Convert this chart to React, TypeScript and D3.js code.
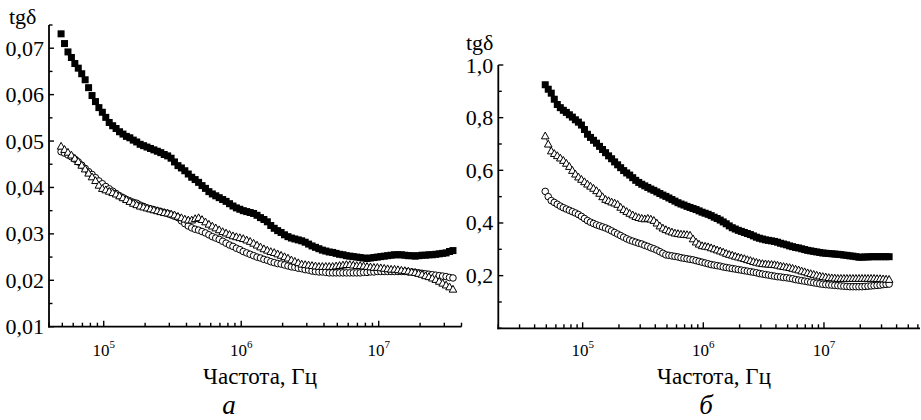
import React from "react";
import * as d3 from "d3";

// log10 of measurement frequency (Hz)
const logF = [
  4.69, 4.715, 4.74, 4.765, 4.79, 4.815, 4.84, 4.865, 4.89, 4.915,
  4.94, 4.965, 4.99, 5.015, 5.04, 5.065, 5.09, 5.115, 5.14, 5.165,
  5.19, 5.215, 5.24, 5.265, 5.29, 5.315, 5.34, 5.365, 5.39, 5.415,
  5.44, 5.465, 5.49, 5.515, 5.54, 5.565, 5.59, 5.615, 5.64, 5.665,
  5.69, 5.715, 5.74, 5.765, 5.79, 5.815, 5.84, 5.865, 5.89, 5.915,
  5.94, 5.965, 5.99, 6.015, 6.04, 6.065, 6.09, 6.115, 6.14, 6.165,
  6.19, 6.215, 6.24, 6.265, 6.29, 6.315, 6.34, 6.365, 6.39, 6.415,
  6.44, 6.465, 6.49, 6.515, 6.54, 6.565, 6.59, 6.615, 6.64, 6.665,
  6.69, 6.715, 6.74, 6.765, 6.79, 6.815, 6.84, 6.865, 6.89, 6.915,
  6.94, 6.965, 6.99, 7.015, 7.04, 7.065, 7.09, 7.115, 7.14, 7.165,
  7.19, 7.215, 7.24, 7.265, 7.29, 7.315, 7.34, 7.365, 7.39, 7.415,
  7.44, 7.465, 7.49, 7.515, 7.54,
];

// panel а
const aSquares = [
  0.0731, 0.0710, 0.0692, 0.0680, 0.0667, 0.0657, 0.0645, 0.0632, 0.0615, 0.0598,
  0.0585, 0.0572, 0.0562, 0.0551, 0.0540, 0.0533, 0.0527, 0.0520, 0.0515, 0.0510,
  0.0507, 0.0502, 0.0498, 0.0493, 0.0490, 0.0487, 0.0484, 0.0481, 0.0478, 0.0475,
  0.0471, 0.0468, 0.0463, 0.0455, 0.0447, 0.0442, 0.0436, 0.0429, 0.0422, 0.0417,
  0.0411, 0.0404, 0.0398, 0.0391, 0.0386, 0.0382, 0.0378, 0.0374, 0.0370, 0.0365,
  0.0360, 0.0356, 0.0353, 0.0350, 0.0348, 0.0346, 0.0344, 0.0340, 0.0335, 0.0331,
  0.0326, 0.0318, 0.0312, 0.0307, 0.0303, 0.0298, 0.0294, 0.0291, 0.0289, 0.0287,
  0.0285, 0.0282, 0.0278, 0.0274, 0.0271, 0.0268, 0.0265, 0.0263, 0.0261, 0.0260,
  0.0258, 0.0256, 0.0255, 0.0253, 0.0252, 0.0251, 0.0250, 0.0249, 0.0248, 0.0247,
  0.0248, 0.0249, 0.0250, 0.0251, 0.0252, 0.0253, 0.0254, 0.0255, 0.0255, 0.0255,
  0.0254, 0.0253, 0.0253, 0.0252, 0.0253, 0.0254, 0.0254, 0.0255, 0.0255, 0.0256,
  0.0257, 0.0258, 0.0259, 0.0262, 0.0264,
];
const aTriangles = [
  0.0489, 0.0482, 0.0476, 0.0470, 0.0463, 0.0456, 0.0448, 0.0440, 0.0431, 0.0423,
  0.0415, 0.0405, 0.0398, 0.0395, 0.0392, 0.0389, 0.0386, 0.0382, 0.0378, 0.0374,
  0.0370, 0.0366, 0.0363, 0.0360, 0.0358, 0.0356, 0.0354, 0.0352, 0.0350, 0.0348,
  0.0346, 0.0345, 0.0343, 0.0341, 0.0338, 0.0335, 0.0332, 0.0330, 0.0330, 0.0333,
  0.0335, 0.0331, 0.0326, 0.0321, 0.0317, 0.0313, 0.0309, 0.0305, 0.0302, 0.0299,
  0.0296, 0.0294, 0.0292, 0.0290, 0.0287, 0.0284, 0.0280, 0.0276, 0.0272, 0.0268,
  0.0265, 0.0262, 0.0260, 0.0257, 0.0254, 0.0251, 0.0248, 0.0244, 0.0241, 0.0238,
  0.0235, 0.0234, 0.0233, 0.0232, 0.0231, 0.0230, 0.0230, 0.0230, 0.0230, 0.0230,
  0.0231, 0.0232, 0.0233, 0.0234, 0.0234, 0.0233, 0.0232, 0.0232, 0.0231, 0.0230,
  0.0229, 0.0228, 0.0228, 0.0227, 0.0226, 0.0225, 0.0224, 0.0224, 0.0223, 0.0222,
  0.0221, 0.0220, 0.0218, 0.0217, 0.0215, 0.0213, 0.0210, 0.0208, 0.0205, 0.0202,
  0.0198, 0.0194, 0.0190, 0.0186, 0.0181,
];
const aCircles = [
  0.0477, 0.0474, 0.0470, 0.0466, 0.0461, 0.0455, 0.0448, 0.0441, 0.0434, 0.0428,
  0.0421, 0.0414, 0.0408, 0.0402, 0.0397, 0.0392, 0.0387, 0.0382, 0.0378, 0.0374,
  0.0371, 0.0368, 0.0366, 0.0362, 0.0359, 0.0356, 0.0354, 0.0352, 0.0350, 0.0348,
  0.0346, 0.0344, 0.0341, 0.0338, 0.0335, 0.0328, 0.0322, 0.0317, 0.0313, 0.0310,
  0.0308, 0.0305, 0.0302, 0.0298, 0.0294, 0.0291, 0.0288, 0.0284, 0.0280, 0.0276,
  0.0273, 0.0269, 0.0266, 0.0262, 0.0259, 0.0256, 0.0253, 0.0250, 0.0248, 0.0245,
  0.0243, 0.0240, 0.0238, 0.0236, 0.0235, 0.0233, 0.0231, 0.0229, 0.0228, 0.0226,
  0.0225, 0.0223, 0.0222, 0.0220, 0.0219, 0.0218, 0.0218, 0.0217, 0.0216, 0.0216,
  0.0216, 0.0216, 0.0216, 0.0216, 0.0216, 0.0216, 0.0216, 0.0216, 0.0217, 0.0217,
  0.0218, 0.0218, 0.0219, 0.0219, 0.0219, 0.0219, 0.0219, 0.0219, 0.0219, 0.0219,
  0.0219, 0.0218, 0.0218, 0.0217, 0.0216, 0.0215, 0.0214, 0.0213, 0.0212, 0.0211,
  0.0210, 0.0209, 0.0208, 0.0206, 0.0205,
];

// panel б
const bSquares = [
  0.925, 0.908, 0.893, 0.870, 0.850, 0.838, 0.828, 0.820, 0.811, 0.802,
  0.792, 0.783, 0.772, 0.755, 0.737, 0.725, 0.714, 0.703, 0.691, 0.679,
  0.667, 0.655, 0.644, 0.632, 0.621, 0.610, 0.599, 0.590, 0.582, 0.572,
  0.562, 0.554, 0.547, 0.541, 0.535, 0.529, 0.524, 0.518, 0.512, 0.506,
  0.501, 0.495, 0.489, 0.483, 0.477, 0.472, 0.468, 0.463, 0.459, 0.455,
  0.451, 0.446, 0.441, 0.437, 0.433, 0.428, 0.422, 0.417, 0.411, 0.404,
  0.397, 0.389, 0.382, 0.377, 0.372, 0.368, 0.364, 0.360, 0.356, 0.351,
  0.346, 0.342, 0.339, 0.336, 0.334, 0.332, 0.330, 0.327, 0.323, 0.320,
  0.317, 0.313, 0.310, 0.307, 0.305, 0.302, 0.299, 0.296, 0.294, 0.292,
  0.290, 0.288, 0.286, 0.285, 0.284, 0.283, 0.282, 0.281, 0.280, 0.278,
  0.277, 0.275, 0.274, 0.272, 0.270, 0.270, 0.271, 0.271, 0.272, 0.272,
  0.272, 0.272, 0.272, 0.272, 0.272,
];
const bTriangles = [
  0.731, 0.700, 0.674, 0.664, 0.656, 0.647, 0.638, 0.627, 0.615, 0.600,
  0.586, 0.575, 0.566, 0.557, 0.548, 0.540, 0.532, 0.523, 0.513, 0.500,
  0.490, 0.485, 0.480, 0.476, 0.471, 0.460, 0.451, 0.444, 0.437, 0.431,
  0.425, 0.421, 0.418, 0.416, 0.418, 0.415, 0.410, 0.400, 0.389, 0.381,
  0.375, 0.370, 0.366, 0.362, 0.360, 0.358, 0.357, 0.356, 0.354, 0.340,
  0.328, 0.320, 0.314, 0.312, 0.310, 0.306, 0.302, 0.298, 0.294, 0.290,
  0.285, 0.281, 0.278, 0.274, 0.271, 0.268, 0.265, 0.261, 0.258, 0.254,
  0.251, 0.248, 0.246, 0.245, 0.244, 0.243, 0.242, 0.240, 0.237, 0.235,
  0.233, 0.231, 0.228, 0.225, 0.222, 0.218, 0.215, 0.211, 0.208, 0.205,
  0.202, 0.199, 0.197, 0.195, 0.193, 0.192, 0.191, 0.190, 0.190, 0.190,
  0.190, 0.190, 0.190, 0.190, 0.190, 0.190, 0.190, 0.190, 0.190, 0.190,
  0.189, 0.189, 0.188, 0.187, 0.186,
];
const bCircles = [
  0.520, 0.500, 0.485, 0.478, 0.471, 0.464, 0.458, 0.453, 0.448, 0.443,
  0.438, 0.432, 0.425, 0.417, 0.409, 0.403, 0.398, 0.393, 0.389, 0.385,
  0.381, 0.376, 0.370, 0.364, 0.358, 0.352, 0.346, 0.340, 0.335, 0.331,
  0.327, 0.323, 0.320, 0.315, 0.311, 0.306, 0.302, 0.297, 0.291, 0.285,
  0.279, 0.277, 0.275, 0.273, 0.271, 0.268, 0.266, 0.264, 0.262, 0.260,
  0.257, 0.254, 0.251, 0.248, 0.245, 0.242, 0.240, 0.238, 0.236, 0.233,
  0.231, 0.229, 0.227, 0.225, 0.223, 0.221, 0.219, 0.217, 0.215, 0.213,
  0.211, 0.208, 0.206, 0.204, 0.202, 0.200, 0.198, 0.196, 0.195, 0.193,
  0.192, 0.190, 0.188, 0.185, 0.183, 0.181, 0.179, 0.177, 0.175, 0.173,
  0.171, 0.169, 0.167, 0.166, 0.165, 0.164, 0.163, 0.162, 0.161, 0.160,
  0.159, 0.158, 0.158, 0.158, 0.158, 0.158, 0.159, 0.160, 0.161, 0.162,
  0.163, 0.164, 0.166, 0.167, 0.168,
];

const aYTicks = [0.01, 0.02, 0.03, 0.04, 0.05, 0.06, 0.07];
const aYLabels = ["0,01", "0,02", "0,03", "0,04", "0,05", "0,06", "0,07"];
const bYTicks = [0.2, 0.4, 0.6, 0.8, 1.0];
const bYLabels = ["0,2", "0,4", "0,6", "0,8", "1,0"];
const xDecades = [5, 6, 7];
const yTitle = "tgδ";
const xTitle = "Частота, Гц";
const panelA = "а";
const panelB = "б";

const SERIF = "'Liberation Serif', 'Times New Roman', serif";

type PanelProps = {
  xDomain: [number, number];
  xRange: [number, number];
  yDomain: [number, number];
  yRange: [number, number];
  yTicks: number[];
  yLabels: string[];
  yMinorStep: number;
  squares: number[];
  triangles: number[];
  circles: number[];
  titleY: number;
  titleX: number;
  xTitleCenter: number;
  letter: string;
  letterX: number;
};

function Panel(p: PanelProps) {
  const x = d3.scaleLog().domain(p.xDomain).range(p.xRange);
  const y = d3.scaleLinear().domain(p.yDomain).range(p.yRange);
  const x0 = p.xRange[0];
  const y0 = p.yRange[0];
  const freqs = logF.map((l) => Math.pow(10, l));

  const xMinor: number[] = [];
  const lo = Math.floor(Math.log10(p.xDomain[0]));
  const hi = Math.ceil(Math.log10(p.xDomain[1]));
  for (let e = lo; e <= hi; e++) {
    for (let m = 1; m <= 9; m++) {
      const v = m * Math.pow(10, e);
      if (v >= p.xDomain[0] * 0.999 && v <= p.xDomain[1] * 1.001) xMinor.push(v);
    }
  }
  const yMinor: number[] = [];
  const nSteps = Math.round((p.yDomain[1] - p.yDomain[0]) / p.yMinorStep);
  for (let i = 0; i <= nSteps; i++) yMinor.push(p.yDomain[0] + i * p.yMinorStep);

  const line = (vals: number[]) =>
    d3
      .line<number>()
      .x((_, i) => x(freqs[i]))
      .y((v) => y(v))(vals) || "";

  const tri = (cx: number, cy: number) => {
    const s = 3.8;
    return `M${cx},${cy - s}L${cx + s},${cy + s * 0.8}L${cx - s},${cy + s * 0.8}Z`;
  };

  return (
    <g>
      <line x1={x0} x2={x0} y1={p.yRange[1]} y2={y0 + 0.9} stroke="#000" strokeWidth={1.8} />
      <line x1={x0 - 0.9} x2={p.xRange[1]} y1={y0} y2={y0} stroke="#000" strokeWidth={1.8} />
      {yMinor.map((v, i) => {
        const major = p.yTicks.some((t) => Math.abs(t - v) < 1e-9);
        return (
          <line key={"ym" + i} x1={x0} x2={x0 + (major ? 5 : 3.5)} y1={y(v)} y2={y(v)} stroke="#000" strokeWidth={1.4} />
        );
      })}
      {xMinor.map((v, i) => {
        const major = Math.abs(Math.log10(v) - Math.round(Math.log10(v))) < 1e-9;
        return (
          <line key={"xm" + i} x1={x(v)} x2={x(v)} y1={y0} y2={y0 - (major ? 6 : 4)} stroke="#000" strokeWidth={1.4} />
        );
      })}
      {p.yTicks.map((t, i) => (
        <text key={"yl" + i} x={x0 - 5} y={y(t) + 7.5} textAnchor="end" fontFamily={SERIF} fontSize={22}>
          {p.yLabels[i]}
        </text>
      ))}
      {xDecades.map((d) => (
        <text key={"xl" + d} x={x(Math.pow(10, d))} y={356} textAnchor="middle" fontFamily={SERIF} fontSize={17}>
          10
          <tspan fontSize={11} dy={-8}>
            {d}
          </tspan>
        </text>
      ))}
      <text x={p.titleX} y={p.titleY} fontFamily={SERIF} fontSize={22}>
        {yTitle}
      </text>
      <text x={p.xTitleCenter} y={384} textAnchor="middle" fontFamily={SERIF} fontSize={23}>
        {xTitle}
      </text>
      <text x={p.letterX} y={414} textAnchor="middle" fontFamily={SERIF} fontSize={27} fontStyle="italic">
        {p.letter}
      </text>
      <path d={line(p.circles)} fill="none" stroke="#000" strokeWidth={0.7} />
      <path d={line(p.triangles)} fill="none" stroke="#000" strokeWidth={0.7} />
      {p.squares.map((v, i) => (
        <rect key={"s" + i} x={x(freqs[i]) - 3.5} y={y(v) - 3.5} width={7} height={7} fill="#000" />
      ))}
      {p.circles.map((v, i) => (
        <circle key={"c" + i} cx={x(freqs[i])} cy={y(v)} r={3.3} fill="#fff" stroke="#000" strokeWidth={1} />
      ))}
      {p.triangles.map((v, i) => (
        <path key={"t" + i} d={tri(x(freqs[i]), y(v))} fill="#fff" stroke="#000" strokeWidth={1} />
      ))}
    </g>
  );
}

export default function App() {
  return (
    <svg
      width={921}
      height={420}
      viewBox="0 0 921 420"
      style={{ position: "absolute", left: 0, top: 0, background: "#fff" }}
    >
      <rect x={0} y={0} width={921} height={420} fill="#fff" />
      <Panel
        xDomain={[4e4, 4e7]}
        xRange={[49, 461.5]}
        yDomain={[0.01, 0.075]}
        yRange={[326.7, 25]}
        yTicks={aYTicks}
        yLabels={aYLabels}
        yMinorStep={0.005}
        squares={aSquares}
        triangles={aTriangles}
        circles={aCircles}
        titleX={9}
        titleY={24}
        xTitleCenter={260}
        letter={panelA}
        letterX={229}
      />
      <Panel
        xDomain={[2e4, 6.25e7]}
        xRange={[498.3, 920]}
        yDomain={[0, 1]}
        yRange={[328.3, 65]}
        yTicks={bYTicks}
        yLabels={bYLabels}
        yMinorStep={0.1}
        squares={bSquares}
        triangles={bTriangles}
        circles={bCircles}
        titleX={466}
        titleY={50}
        xTitleCenter={714}
        letter={panelB}
        letterX={706}
      />
    </svg>
  );
}
